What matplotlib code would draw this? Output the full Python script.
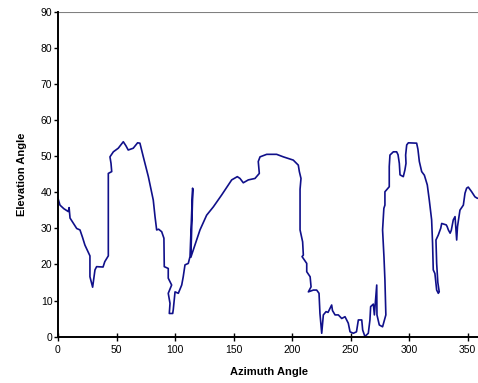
import matplotlib
matplotlib.use('Agg')
import matplotlib.pyplot as plt

plt.rcParams['font.family'] = ['Liberation Sans', 'DejaVu Sans']

# horizon profile
azimuth = [0, 1.7, 5, 8.8, 9.5, 10.3, 13, 16, 18.8, 21, 23, 27.3, 27.3, 29.6, 31.6, 33,
           38.5, 40, 43, 43, 45.9, 45.3, 44.4, 47.3, 51.5, 55.8, 58, 60, 64.3, 68, 70,
           72.9, 77.2, 81.4, 82.9, 84.3, 86, 88.6, 90.5, 90.8, 94.2, 94.2, 97.1, 94.2,
           95.7, 95.1, 98, 98.5, 100, 102.8, 105.7, 107, 108.5, 111.3, 112.8, 115, 115.2,
           113.5, 117, 121.3, 127, 132.7, 139.8, 148.4, 153.2, 155.5, 158.3, 162.6,
           168.3, 172, 171.1, 172.6, 178.3, 186.8, 192.5, 201, 205.3, 206.2, 207.6,
           206.8, 206.8, 209, 209.6, 208.5, 212.5, 212.5, 215.4, 216.2, 213.9, 218.2,
           221, 223, 223.8, 225.3, 226.7, 229, 230.7, 233.8, 234.5, 236.7, 239.5, 242.4,
           245.2, 248, 249.5, 252.3, 255, 256.6, 259.5, 260.3, 262.2, 265.1, 266.5,
           267.1, 269.4, 270.3, 272.3, 272.5, 274.5, 277.3, 280.1, 279.3, 278.5, 277.3,
           278.4, 279.3, 279.3, 283, 283, 283.6, 286.5, 289.3, 290.5, 291.6, 292.2, 295,
           296.4, 297.3, 297, 297.9, 299.3, 306.4, 307.5, 308.7, 310.7, 313, 315.5,
           317.2, 319.2, 320, 320.6, 322, 323.5, 324.9, 325.7, 324.5, 323.5, 322.9,
           324.9, 327, 327.8, 331.7, 332.5, 333.5, 335, 336, 337.7, 339.2, 340.6, 341.3,
           343.4, 346.3, 347.7, 349.1, 350.5, 353.4, 356.2, 358.2, 360]
elevation = [38.4, 36.5, 35.5, 34.7, 35.8, 32.9, 31.5, 30, 29.6, 27.5, 25.4, 22.4, 16.6,
             13.7, 18.5, 19.4, 19.3, 20.8, 22.4, 45.3, 45.8, 48.1, 49.9, 51.3, 52.3,
             54.1, 53, 51.8, 52.3, 53.8, 53.7, 49.9, 44.4, 37.9, 33.3, 29.6, 29.8, 29.1,
             27.3, 19.4, 18.9, 16.2, 14.3, 12, 9.2, 6.4, 6.4, 7.5, 12.4, 12, 14.3, 16.6,
             19.9, 20.3, 22.2, 41.2, 40.8, 22, 25.4, 29.6, 33.7, 36, 39.3, 43.5, 44.4,
             43.9, 42.7, 43.5, 43.9, 45.3, 48.6, 49.9, 50.6, 50.6, 49.9, 49, 47.6, 45.8,
             43.9, 40.9, 29.6, 26.3, 22.6, 22.2, 20.3, 18, 16.6, 13.8, 12.4, 12.9, 12.9,
             12, 6.4, 0.9, 6, 6.9, 6.7, 8.75, 7.2, 6, 6, 5, 5.5, 3.7, 1.3, 0.9, 1.3, 4.6,
             4.6, 1.8, 0, 0.9, 4.6, 8.3, 9, 6, 14.3, 6, 3.2, 2.7, 6, 15.7, 22, 29.6,
             35.6, 36.5, 40.2, 41.6, 47.2, 50.4, 51.3, 51.3, 50.5, 48.1, 44.9, 44.4,
             46.3, 48.1, 50.4, 53.2, 53.8, 53.7, 52, 48.6, 45.8, 44.8, 42.1, 37.9, 32.4,
             25.9, 18.5, 17.5, 12.9, 12, 12.4, 15, 20.3, 26.8, 28.2, 30.1, 31.4, 31,
             30.5, 29.6, 28.7, 29.5, 32.4, 33.3, 26.8, 30.5, 35.1, 36.5, 39.8, 41.2, 41.5,
             40.2, 38.8, 38.4, 38.4]

xticks = [0, 50, 100, 150, 200, 250, 300, 350]
yticks = [0, 10, 20, 30, 40, 50, 60, 70, 80, 90]

fig = plt.figure(figsize=(4.78, 3.83), dpi=100)
ax = fig.add_axes([0.1213, 0.1214, 0.8816, 0.846])

ax.plot(azimuth, elevation, color='#10108a', linewidth=1.2)
ax.axhline(90, color='#808080', linewidth=0.8)

ax.set_xlim(0, 360)
ax.set_ylim(0, 90)
ax.set_xticks(xticks)
ax.set_yticks(yticks)

for side in ['top', 'right']:
    ax.spines[side].set_visible(False)
for side in ['left', 'bottom']:
    ax.spines[side].set_linewidth(1.4)

ax.tick_params(axis='x', direction='inout', length=6, width=1, labelsize=7.5, pad=3)
ax.tick_params(axis='y', direction='out', length=3, width=1, labelsize=7.5, pad=1)

ax.set_xlabel('Azimuth Angle', fontsize=8, fontweight='bold', labelpad=9)
ax.set_ylabel('Elevation Angle', fontsize=8, fontweight='bold', labelpad=10)

fig.savefig('out.png', dpi=100)
